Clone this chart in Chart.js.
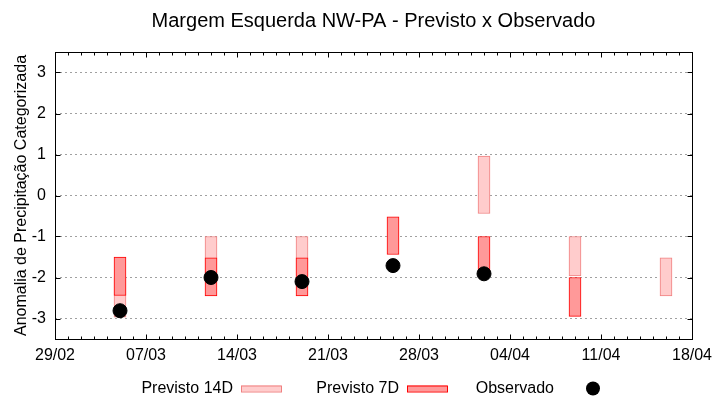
<!DOCTYPE html>
<html>
<head>
<meta charset="utf-8">
<script src="https://cdn.jsdelivr.net/npm/chart.js@4.4.1/dist/chart.umd.min.js"></script>
<style>
  html, body { margin: 0; padding: 0; background: #fff; }
  #wrap { width: 720px; height: 400px; }
</style>
</head>
<body>
<div id="wrap"><canvas id="chart" width="720" height="400"></canvas></div>
<script>
// weekly forecast dates (dd/mm, 2024)
const dates = ["05/03", "12/03", "19/03", "26/03", "02/04", "09/04", "16/04"];
// category anomaly ranges [low, high]
const previsto14 = [[-2.97, -2.0], [-1.95, -1.0], [-1.95, -1.0], null, [-0.44, 0.96], [-1.96, -1.0], [-2.45, -1.52]];
const previsto7 = [[-2.44, -1.5], [-2.45, -1.52], [-2.45, -1.52], [-1.44, -0.52], [-1.9, -1.0], [-2.95, -2.0], null];
const observado = [-2.81, -2.0, -2.1, -1.71, -1.91, null, null];

const xTickLabels = ["29/02", "07/03", "14/03", "21/03", "28/03", "04/04", "11/04", "18/04"];
const yTicks = [-3, -2, -1, 0, 1, 2, 3];

const FONT = "'Liberation Sans', Arial, sans-serif";

function dayOffset(s) {
  const [d, m] = s.split("/").map(Number);
  return (Date.UTC(2024, m - 1, d) - Date.UTC(2024, 1, 29)) / 864e5;
}

const xTickValues = xTickLabels.map(dayOffset);
const xMin = xTickValues[0];
const xMax = xTickValues[xTickValues.length - 1];

const toBars = (arr) =>
  dates.map((d, i) => (arr[i] ? { x: dayOffset(d), y: arr[i] } : null)).filter(Boolean);

const obsPoints = dates
  .map((d, i) => (observado[i] !== null ? { x: dayOffset(d), y: observado[i] } : null))
  .filter(Boolean);

// frame with inward ticks, like the original plot
const framePlugin = {
  id: "frame",
  afterDraw(chart) {
    const { ctx, chartArea: a, scales } = chart;
    ctx.save();
    ctx.strokeStyle = "#000";
    ctx.lineWidth = 1;
    const L = Math.round(a.left) + 0.5, R = Math.round(a.right) + 0.5;
    const T = Math.round(a.top) + 0.5, B = Math.round(a.bottom) + 0.5;
    ctx.strokeRect(L, T, R - L, B - T);
    ctx.beginPath();
    for (let d = xMin; d <= xMax; d++) {
      const px = Math.round(scales.x.getPixelForValue(d)) + 0.5;
      const len = d % 7 === 0 ? 5 : 3;
      ctx.moveTo(px, B); ctx.lineTo(px, B - len);
      ctx.moveTo(px, T); ctx.lineTo(px, T + len);
    }
    yTicks.forEach((v) => {
      const py = Math.round(scales.y.getPixelForValue(v)) + 0.5;
      ctx.moveTo(L, py); ctx.lineTo(L + 5, py);
      ctx.moveTo(R, py); ctx.lineTo(R - 5, py);
    });
    ctx.stroke();
    ctx.restore();
  },
};

// legend in gnuplot style: text first, sample after it
const keyPlugin = {
  id: "key",
  afterDraw(chart) {
    const { ctx } = chart;
    const textRight = [233, 399, 554];
    const sampleLeft = [241, 407, 573];
    const sampleW = 40;
    const cy = 388.5;
    ctx.save();
    ctx.font = "16px " + FONT;
    ctx.textAlign = "right";
    ctx.textBaseline = "alphabetic";
    chart.data.datasets.forEach((ds, i) => {
      ctx.fillStyle = "#000";
      ctx.fillText(ds.label, textRight[i], 392.5);
      if (ds.type === "scatter") {
        ctx.beginPath();
        ctx.arc(sampleLeft[i] + sampleW / 2, cy, 7, 0, Math.PI * 2);
        ctx.fillStyle = ds.backgroundColor;
        ctx.fill();
      } else {
        ctx.fillStyle = ds.backgroundColor;
        ctx.fillRect(sampleLeft[i], cy - 3, sampleW, 6);
        ctx.strokeStyle = ds.borderColor;
        ctx.lineWidth = 1;
        ctx.strokeRect(sampleLeft[i] + 0.5, cy - 3 + 0.5, sampleW, 6);
      }
    });
    ctx.restore();
  },
};

const ctx = document.getElementById("chart").getContext("2d");

new Chart(ctx, {
  type: "bar",
  data: {
    datasets: [
      {
        label: "Previsto 14D",
        data: toBars(previsto14),
        backgroundColor: "#ffcccc",
        borderColor: "#f08080",
        borderWidth: 1,
        borderSkipped: false,
        barThickness: 12,
        grouped: false,
        order: 2,
      },
      {
        label: "Previsto 7D",
        data: toBars(previsto7),
        backgroundColor: "#ff9999",
        borderColor: "#ff0000",
        borderWidth: 1,
        borderSkipped: false,
        barThickness: 12,
        grouped: false,
        order: 1,
      },
      {
        type: "scatter",
        label: "Observado",
        data: obsPoints,
        backgroundColor: "#000",
        borderColor: "#000",
        pointRadius: 7,
        pointHoverRadius: 7,
        showLine: false,
        order: 0,
      },
    ],
  },
  options: {
    responsive: false,
    animation: false,
    devicePixelRatio: 1,
    layout: { padding: { left: 0, right: 28, top: 0, bottom: 0 } },
    scales: {
      x: {
        type: "linear",
        offset: false,
        min: xMin,
        max: xMax,
        afterBuildTicks: (scale) => {
          scale.ticks = xTickValues.map((v) => ({ value: v }));
        },
        afterFit: (scale) => {
          scale.height = 61;
        },
        ticks: {
          autoSkip: false,
          maxRotation: 0,
          padding: 7,
          color: "#000",
          font: { family: FONT, size: 16 },
          callback: (v) => xTickLabels[xTickValues.indexOf(v)],
        },
        grid: { display: false, drawTicks: false },
        border: { display: false },
      },
      y: {
        type: "linear",
        min: -3.5,
        max: 3.5,
        afterBuildTicks: (scale) => {
          scale.ticks = yTicks.map((v) => ({ value: v }));
        },
        afterFit: (scale) => {
          scale.width = 55;
        },
        ticks: {
          padding: 9,
          color: "#000",
          font: { family: FONT, size: 16 },
        },
        grid: { color: "#a0a0a0", lineWidth: 1, drawTicks: false },
        border: { display: false, dash: [2, 3] },
        title: {
          display: true,
          text: "Anomalia de Precipitação Categorizada",
          color: "#000",
          font: { family: FONT, size: 16 },
          padding: { top: 12, bottom: 0 },
        },
      },
    },
    plugins: {
      legend: { display: false },
      tooltip: { enabled: false },
      title: {
        display: true,
        fullSize: false,
        text: "Margem Esquerda NW-PA - Previsto x Observado",
        color: "#000",
        font: { family: FONT, size: 20, weight: "normal" },
        padding: { top: 9, bottom: 19 },
      },
    },
  },
  plugins: [framePlugin, keyPlugin],
});
</script>
</body>
</html>
